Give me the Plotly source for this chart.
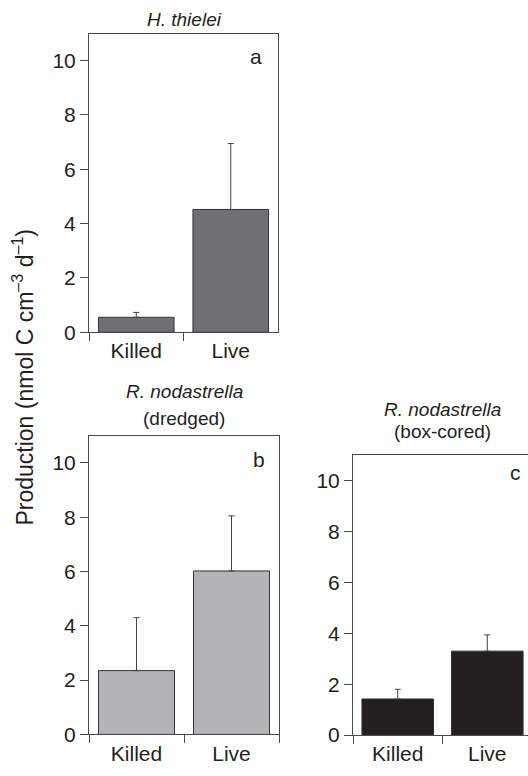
import plotly.graph_objects as go

W, H = 528, 776

categories = ["Killed", "Live"]
a_values = [0.55, 4.52]
a_errors = [0.18, 2.43]
b_values = [2.35, 6.02]
b_errors = [1.95, 2.03]
c_values = [1.42, 3.30]
c_errors = [0.38, 0.64]
ytick_vals = [0, 2, 4, 6, 8, 10]

FONT = "Liberation Sans, Arial, Helvetica, sans-serif"
TXT = "#231f20"
AX = "#4a4a4a"
TICK_SIZE = 21

def px(x):
    return x / W

def py(y):
    return 1 - y / H

fig = go.Figure()

panels = [
    ("x", "y", a_values, a_errors, "#6f7073"),
    ("x2", "y2", b_values, b_errors, "#b3b4b6"),
    ("x3", "y3", c_values, c_errors, "#231f20"),
]
for xa, ya, vals, errs, col in panels:
    fig.add_trace(go.Bar(
        x=categories, y=vals, xaxis=xa, yaxis=ya, width=0.8,
        marker=dict(color=col, line=dict(color="#333333", width=1)),
        error_y=dict(type="data", array=errs, arrayminus=[0, 0], symmetric=False,
                     color="#444444", thickness=1, width=3),
        showlegend=False,
    ))

def xaxis(domain, rng, anchor):
    return dict(domain=domain, range=rng, type="category", anchor=anchor,
                showline=True, linecolor=AX, linewidth=1, mirror=True,
                ticks="outside", ticklen=8, tickcolor=AX, tickwidth=1,
                tickson="boundaries", showgrid=False, zeroline=False,
                tickfont=dict(family=FONT, size=TICK_SIZE, color=TXT), fixedrange=True)

def yaxis(domain, anchor, mirror=True):
    return dict(domain=domain, range=[0, 11], anchor=anchor,
                showline=True, linecolor=AX, linewidth=1, mirror=mirror,
                ticks="outside", ticklen=8, tickcolor=AX, tickwidth=1,
                tickvals=ytick_vals, showgrid=False, zeroline=False,
                tickfont=dict(family=FONT, size=TICK_SIZE, color=TXT), fixedrange=True)

fig.update_layout(
    width=W, height=H,
    margin=dict(l=0, r=0, t=0, b=0),
    paper_bgcolor="white", plot_bgcolor="white",
    bargap=0.2,
    xaxis=xaxis([px(89), px(278)], [-0.5, 1.5], "y"),
    yaxis=yaxis([py(337), py(34)], "x"),
    xaxis2=xaxis([px(89), px(279)], [-0.5, 1.5], "y2"),
    yaxis2=yaxis([py(745), py(442)], "x2"),
    xaxis3=xaxis([px(353), 1.0], [-0.5, 1.455], "y3"),
    yaxis3=yaxis([py(745.7), py(461.7)], "x3", mirror=False),
)

def ann(text, x, y, size=19, **kw):
    fig.add_annotation(text=text, x=px(x), y=py(y), xref="paper", yref="paper",
                       showarrow=False, xanchor="center", yanchor="middle",
                       font=dict(family=FONT, size=size, color=TXT), **kw)

ann("<i>H. thielei</i>", 184, 20)
ann("<i>R. nodastrella</i>", 184, 397)
ann("(dredged)", 184, 425)
ann("<i>R. nodastrella</i>", 442, 415)
ann("(box-cored)", 442, 438)
ann("a", 256, 57, size=21)
ann("b", 259, 466, size=21)
ann("c", 515, 479, size=21)
ann("Production (nmol C cm<sup>–3</sup> d<sup>–1</sup>)", 23, 383, size=23, textangle=-90)

fig.write_html("out.html", config={"displayModeBar": False},
               post_script="document.body.style.margin='0';document.body.style.overflow='hidden';")
